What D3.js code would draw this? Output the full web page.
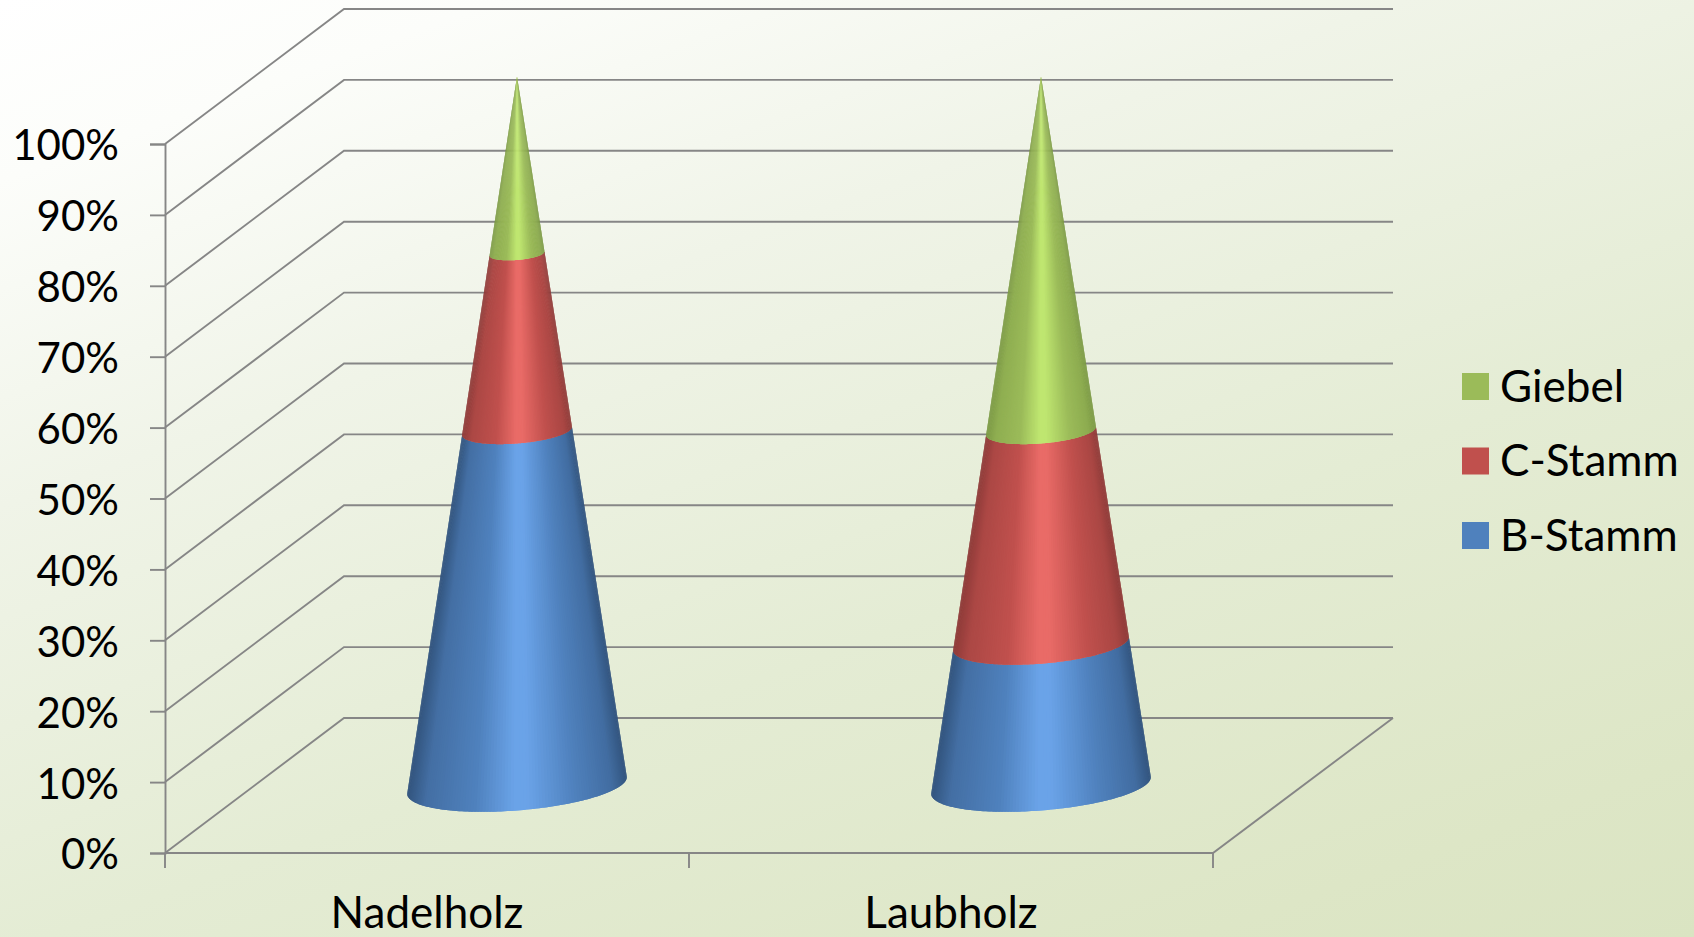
<!DOCTYPE html>
<html>
<head>
<meta charset="utf-8">
<script src="https://cdn.jsdelivr.net/npm/d3@7"></script>
<style>
  html, body { margin: 0; padding: 0; overflow: hidden; }
  svg { display: block; }
  text { font-family: Lato, sans-serif; fill: #000; }
</style>
</head>
<body>
<svg id="chart" width="1694" height="937"></svg>
<script>
// chart values
const categories = ['Nadelholz', 'Laubholz'];
const bStamm = [50, 20];
const cStamm = [25, 30];
const giebel = [25, 50];
const percentTicks = [0, 10, 20, 30, 40, 50, 60, 70, 80, 90, 100];
const seriesNames = ['B-Stamm', 'C-Stamm', 'Giebel'];
const seriesColors = ['#4f81bd', '#c0504d', '#9bbb59'];
const seriesDark = ['#33557f', '#8f3b39', '#7c9a45'];
const seriesLight = ['#6aa3e8', '#e96b67', '#bfe670'];

const svg = d3.select('#chart');
const width = +svg.attr('width');
const height = +svg.attr('height');

// front plane of the 3d box, the depth goes up and to the right
const depthX = 180;
const depthY = -135;
const x = d3.scaleBand().domain(categories).range([165, 1213]);
const y = d3.scaleLinear().domain([0, 100]).range([853, 144]);

// background, mostly top to bottom with a slight tilt
const bg = svg.append('defs').append('linearGradient')
    .attr('id', 'bg')
    .attr('gradientUnits', 'userSpaceOnUse')
    .attr('x1', 0).attr('y1', 0)
    .attr('x2', 495).attr('y2', 1370);
const bgStops = [[0, '#ffffff'], [0.117, '#fcfdfa'], [0.327, '#f0f4e8'], [0.615, '#e4ecd4'], [0.884, '#dde6c6'], [1, '#dae4c2']];
bg.selectAll('stop')
    .data(bgStops)
    .join('stop')
    .attr('offset', d => d[0])
    .attr('stop-color', d => d[1]);
svg.append('rect').attr('width', width).attr('height', height).attr('fill', 'url(#bg)');

const gridColor = '#868686';
const gridWidth = 1.9;
const grid = svg.append('g').attr('fill', 'none').attr('stroke', gridColor).attr('stroke-width', gridWidth);

// back wall and left wall
percentTicks.forEach(function (t) {
  grid.append('path').attr('d', d3.line()([
    [x.range()[0], y(t)],
    [x.range()[0] + depthX - 1, y(t) + depthY],
    [x.range()[1] + depthX, y(t) + depthY]
  ]));
});
// floor
grid.append('path').attr('d', d3.line()([
  [x.range()[0], y(0)],
  [x.range()[1], y(0)],
  [x.range()[1] + depthX, y(0) + depthY]
]));

// axes
const yAxis = d3.axisLeft(y)
    .tickValues(percentTicks)
    .tickSize(15)
    .tickPadding(31)
    .tickFormat(d => d + '%');
const xAxis = d3.axisBottom(x).tickSize(0).tickPadding(44);

const yG = svg.append('g').attr('transform', 'translate(' + x.range()[0] + ',0)').call(yAxis);
const xG = svg.append('g').attr('transform', 'translate(0,' + y(0) + ')').call(xAxis);
xG.select('.domain').remove();
yG.selectAll('.tick line').attr('stroke', gridColor).attr('stroke-width', gridWidth);
yG.select('.domain').attr('stroke', gridColor).attr('stroke-width', gridWidth);
yG.selectAll('text').style('font-size', '42px').attr('dy', '0.38em');
xG.selectAll('text').style('font-size', '44px').attr('dy', '0.71em');

// category separators
xG.selectAll('.sep')
    .data(d3.range(categories.length + 1))
    .join('line')
    .attr('class', 'sep')
    .attr('x1', i => x.range()[0] + i * x.step())
    .attr('x2', i => x.range()[0] + i * x.step())
    .attr('y1', 0)
    .attr('y2', 15)
    .attr('stroke', gridColor)
    .attr('stroke-width', gridWidth);

// stack the three series per category
const table = categories.map((c, i) => ({ 'B-Stamm': bStamm[i], 'C-Stamm': cStamm[i], 'Giebel': giebel[i] }));
const stacked = d3.stack().keys(seriesNames)(table);

// cone base, as an ellipse lying on the floor
const baseU = 104;      // half width along x
const baseV = 0.195;    // share of the depth vector used as half depth

// point on the cone at stack level p and angle t, category i
function conePoint(i, p, t) {
  const cx = x(categories[i]) + x.bandwidth() / 2 + depthX / 2;
  const cy = y(p) + depthY / 2;
  const r = 1 - p / 100;
  return [
    cx + r * (baseU * Math.cos(t) + baseV * depthX * Math.sin(t)),
    cy + r * baseV * depthY * Math.sin(t)
  ];
}

// silhouette angles: where a line from the apex touches the base ellipse
const coneH = y(0) - y(100);
const vx = baseV * depthX;
const vy = baseV * depthY;
const phi = Math.atan2(vx, baseU);
const skew = Math.asin((-baseU * vy / coneH) / Math.hypot(baseU, vx));
const tStart = phi + Math.PI - skew;
const tEnd = phi + skew + 2 * Math.PI;

const facetCount = 110;
const tStep = (tEnd - tStart) / facetCount;
const angles = d3.range(facetCount).map(k => tStart + tStep * k);
const halfWide = Math.abs(baseU * Math.cos(tStart) + vx * Math.sin(tStart));

// same steps of shade for all colours, dark edge, bright stripe a bit left of the middle
function shader(s) {
  return d3.scaleLinear()
      .domain([0, 0.08, 0.3, 0.48, 0.54, 0.76, 0.93, 1])
      .range([seriesDark[s], d3.interpolateRgb(seriesDark[s], seriesColors[s])(0.6), seriesColors[s], seriesLight[s], seriesLight[s], seriesColors[s], d3.interpolateRgb(seriesDark[s], seriesColors[s])(0.55), seriesDark[s]]);
}

const line = d3.line();
const cones = svg.append('g');
categories.forEach(function (cat, i) {
  const cone = cones.append('g').attr('class', 'cone');
  stacked.forEach(function (layer, s) {
    const shade = shader(s);
    const p0 = layer[i][0];
    const p1 = layer[i][1];
    // every facet reaches under the next one, no seams that way
    cone.append('g').selectAll('path')
        .data(angles)
        .join('path')
        .attr('d', t => {
          const t2 = Math.min(t + 2 * tStep, tEnd);
          return line([conePoint(i, p0, t), conePoint(i, p0, t + tStep), conePoint(i, p0, t2), conePoint(i, p1, t2), conePoint(i, p1, t)]) + 'Z';
        })
        .attr('fill', t => {
          const f = (baseU * Math.cos(t) + vx * Math.sin(t) + halfWide) / (2 * halfWide);
          return shade(Math.max(0, Math.min(1, f)));
        });
  });
});

// legend, top entry is the top of the stack
const legend = svg.append('g');
const legendItems = legend.selectAll('g')
    .data(seriesNames.map((n, s) => ({ name: n, color: seriesColors[s] })).reverse())
    .join('g')
    .attr('transform', (d, k) => 'translate(1462,' + (373 + k * 74.5) + ')');
legendItems.append('rect').attr('width', 27).attr('height', 27).attr('fill', d => d.color);
legendItems.append('text')
    .attr('x', 38)
    .attr('y', 13.5)
    .attr('dy', '0.35em')
    .style('font-size', '44px')
    .text(d => d.name);
</script>
</body>
</html>
